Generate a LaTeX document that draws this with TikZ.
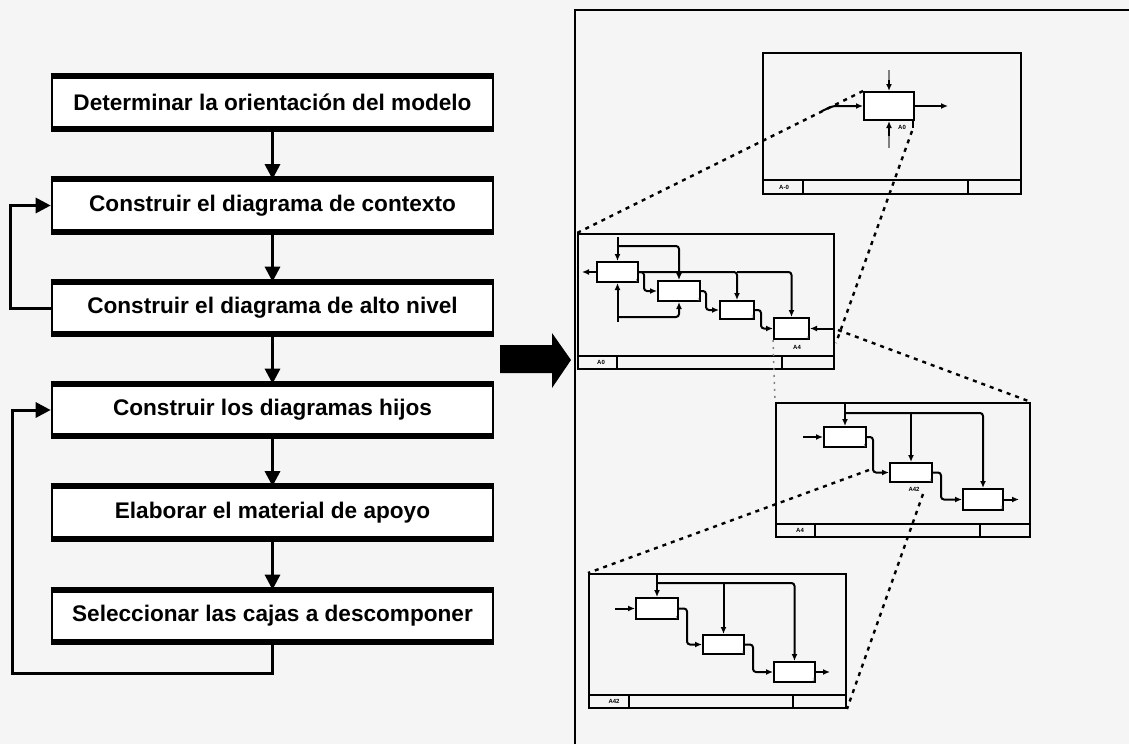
\documentclass[tikz,border=0pt]{standalone}
\usepackage{fontspec}
\setmainfont{Liberation Sans}
\usetikzlibrary{arrows.meta}
\definecolor{paper}{HTML}{F5F5F5}
\begin{document}
\begin{tikzpicture}[x=1pt,y=-1pt,
  stepbox/.style={draw, fill=white, line width=2.6pt, minimum width=441pt,
    minimum height=50pt, inner sep=0pt,
    font=\bfseries\fontsize{22.6}{26}\selectfont},
  flow/.style={line width=3pt, -{Triangle[length=15pt,width=15pt]}},
  sheet/.style={draw, line width=2pt, anchor=north west, inner sep=0pt},
  mini/.style={draw, fill=white, line width=2pt, inner sep=0pt},
  wire/.style={line width=2pt, rounded corners=3pt},
  tip/.style={-{Latex[length=7pt,width=6pt]}},
  zoomline/.style={line width=2.4pt, dash pattern=on 4pt off 5pt},
  faintzoom/.style={line width=1.5pt, gray, dash pattern=on 2pt off 5pt},
  tag/.style={font=\bfseries\fontsize{6}{6}\selectfont, inner sep=0pt},
  num/.style={font=\fontsize{4.5}{5}\selectfont, inner sep=0.8pt, text=black!70}
]
% paper
\fill[paper] (0,0) rectangle (1129,744);
\useasboundingbox (0,0) rectangle (1129,744);

% ---------- method steps ----------
\node[stepbox] (s1) at (272.5,102.5) {Determinar la orientación del modelo};
\node[stepbox] (s2) at (272.5,205.5) {Construir el diagrama de contexto};
\node[stepbox] (s3) at (272.5,308) {Construir el diagrama de alto nivel};
\node[stepbox] (s4) at (272.5,410) {Construir los diagramas hijos};
\node[stepbox] (s5) at (272.5,512.5) {Elaborar el material de apoyo};
\node[stepbox] (s6) at (272.5,616) {Seleccionar las cajas a descomponer};
\foreach \n in {s1,s2,s3,s4,s5,s6}{
  \draw[line width=6pt] (\n.north west) -- (\n.north east);
  \draw[line width=6pt] (\n.south west) -- (\n.south east);
}
\draw[flow] (s1) -- (s2);
\draw[flow] (s2) -- (s3);
\draw[flow] (s3) -- (s4);
\draw[flow] (s4) -- (s5);
\draw[flow] (s5) -- (s6);
% iteration loops
\draw[flow] (s3.west) -- ++(-40,0) |- (s2.west);
\coordinate (loopcorner) at (12,673);
\draw[flow] (s6.south) |- (loopcorner) |- (s4.west);

% block arrow
\fill (500,345) -- (552,345) -- (552,333) -- (571,360) -- (552,388)
      -- (552,373) -- (500,373) -- cycle;

% ---------- model panel ----------
\draw[line width=2.6pt] (575,744) -- (575,10) -- (1129,10);

% context sheet A-0
\node[sheet, minimum width=258pt, minimum height=141pt] (shA) at (762,52) {};
\draw[line width=2pt] (762,180) -- (1020,180) (803,180) -- (803,193)
  (968,180) -- (968,193);
\node[tag] at (784,187) {A-0};
\node[mini, minimum width=50pt, minimum height=28pt] (a0) at (889,106) {};
\draw[line width=2pt, gray] (889,70) -- (889,80);
\draw[wire, tip] (889,80) -- (a0.north);
\draw[line width=2pt, gray] (889,148) -- (889,136);
\draw[wire, tip] (889,136) -- (a0.south);
\draw[wire, tip] (822,111) -- (833,106) -- (a0.west);
\draw[wire, tip] (a0.east) -- (948,106);
\draw[line width=1.6pt] (913,120) -- (913,128);
\node[tag] (a0tag) at (902,127) {A0};

% top-level sheet A0
\node[sheet, minimum width=256pt, minimum height=135pt] (shB) at (577,233) {};
\draw[line width=2pt] (577,356) -- (833,356) (617,356) -- (617,368)
  (782,356) -- (782,368);
\node[tag] at (601,362) {A0};
\node[mini, minimum width=41pt, minimum height=20pt] (b1) at (617.5,272) {};
\node[mini, minimum width=42pt, minimum height=20pt] (b2) at (679,291) {};
\node[mini, minimum width=34pt, minimum height=18pt] (b3) at (737,310) {};
\node[mini, minimum width=35pt, minimum height=21pt] (b4) at (791.5,328.5) {};
\node[num, anchor=south east] at (b1.south east) {1};
\node[num, anchor=south east] at (b2.south east) {2};
\node[num, anchor=south east] at (b3.south east) {3};
\node[num, anchor=south east] at (b4.south east) {4};
\draw[wire, tip] (617.5,237) -- (b1.north);
\draw[wire, tip] (617.5,246) -| (b2.north);
\draw[wire, tip] (b1.east) -| (b3.north);
\draw[wire, tip] (737,272) -| (b4.north);
\draw[wire, tip] (617.5,322) -- (b1.south);
\draw[wire, tip] (617.5,317) -| (b2.south);
\draw[wire, tip] (b1.east) -- ++(5,0) |- (b2.west);
\draw[wire, tip] (b2.east) -- ++(5,0) |- (b3.west);
\draw[wire, tip] (b3.east) -- ++(6,0) |- (b4.west);
\draw[wire, tip] (833,328.5) -- (b4.east);
\draw[wire, tip] (b1.west) -- ++(-14,0);
\node[tag] (b4tag) at (797,347) {A4};

% child sheet A4
\node[sheet, minimum width=254pt, minimum height=134pt] (shC) at (775,402) {};
\draw[line width=2pt] (775,524) -- (1029,524) (815,524) -- (815,536)
  (980,524) -- (980,536);
\node[tag] at (800,530) {A4};
\node[mini, minimum width=42pt, minimum height=20pt] (c1) at (845,437) {};
\node[mini, minimum width=42pt, minimum height=19pt] (c2) at (911,472.5) {};
\node[mini, minimum width=40pt, minimum height=21pt] (c3) at (983,499.5) {};
\node[num, anchor=south east] at (c1.south east) {1};
\node[num, anchor=south east] at (c2.south east) {2};
\node[num, anchor=south east] at (c3.south east) {3};
\draw[wire, tip] (845,402) -- (c1.north);
\draw[wire, tip] (845,413) -| (c3.north);
\draw[wire, tip] (911,413) -- (c2.north);
\draw[wire, tip] (803,437) -- (c1.west);
\draw[wire, tip] (c1.east) -- ++(6,0) |- (c2.west);
\draw[wire, tip] (c2.east) -- ++(8,0) |- (c3.west);
\draw[wire, tip] (c3.east) -- ++(15,0);
\node[tag] (c2tag) at (914,489) {A42};

% child sheet A42
\node[sheet, minimum width=257pt, minimum height=134pt] (shD) at (588,573) {};
\draw[line width=2pt] (588,695) -- (845,695) (629,695) -- (629,707)
  (793,695) -- (793,707);
\node[tag] at (614,701) {A42};
\node[mini, minimum width=42pt, minimum height=21pt] (d1) at (657,608.5) {};
\node[mini, minimum width=41pt, minimum height=19pt] (d2) at (723.5,644.5) {};
\node[mini, minimum width=41pt, minimum height=20pt] (d3) at (794.5,672) {};
\node[num, anchor=south east] at (d1.south east) {1};
\node[num, anchor=south east] at (d2.south east) {2};
\node[num, anchor=south east] at (d3.south east) {3};
\draw[wire, tip] (657,573) -- (d1.north);
\draw[wire, tip] (657,583) -| (d3.north);
\draw[wire, tip] (723.5,583) -- (d2.north);
\draw[wire, tip] (615,608.5) -- (d1.west);
\draw[wire, tip] (d1.east) -- ++(8,0) |- (d2.west);
\draw[wire, tip] (d2.east) -- ++(8,0) |- (d3.west);
\draw[wire, tip] (d3.east) -- ++(14,0);

% ---------- decomposition guides ----------
\coordinate (a0low) at (912,131);
\coordinate (bside) at (836,343);
\coordinate (b4side) at (838,330);
\coordinate (c2left) at (869,470);
\coordinate (c2low) at (923,494);
\draw[zoomline] (a0.north west) -- (shB.north west);
\draw[zoomline] (a0low) -- (bside);
\draw[faintzoom] (b4.south west) -- (shC.north west);
\draw[zoomline] (b4side) -- (shC.north east);
\draw[zoomline] (c2left) -- (shD.north west);
\draw[zoomline] (c2low) -- (shD.south east);
\end{tikzpicture}
\end{document}
